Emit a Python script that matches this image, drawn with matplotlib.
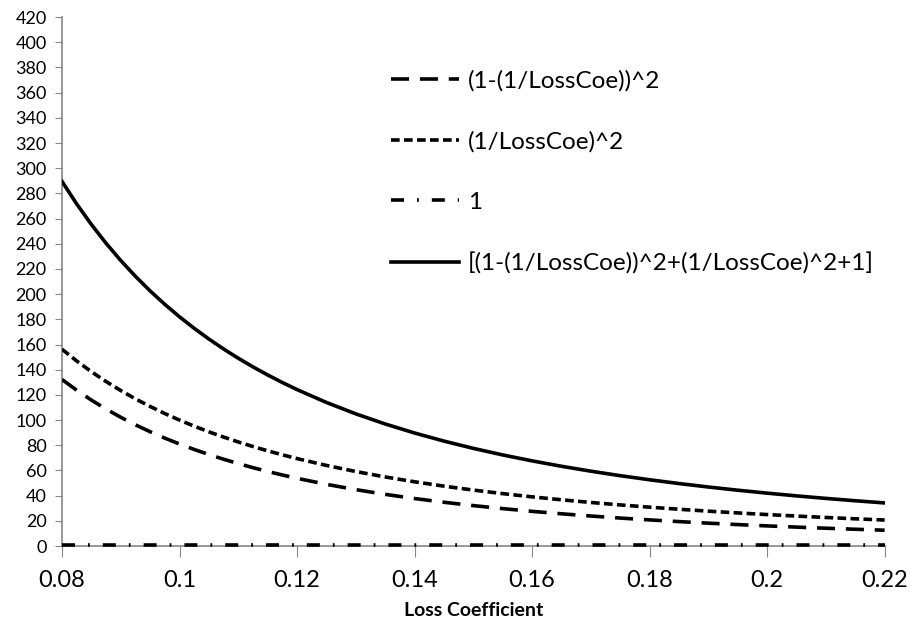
import matplotlib.pyplot as plt

plt.rcParams['font.family'] = ['Lato', 'DejaVu Sans']

# Data
loss_coe = [0.0800, 0.0825, 0.0850, 0.0875, 0.0900, 0.0925, 0.0950, 0.0975,
            0.1000, 0.1025, 0.1050, 0.1075, 0.1100, 0.1125, 0.1150, 0.1175,
            0.120, 0.125, 0.130, 0.135, 0.140, 0.145, 0.150, 0.155, 0.160, 0.165,
            0.170, 0.175, 0.180, 0.185, 0.190, 0.195, 0.200, 0.205, 0.210, 0.215, 0.220]
one_minus_inv_sq = [132.25, 123.68, 115.88, 108.76, 102.23, 96.25, 90.75, 85.68,
                    81.00, 76.67, 72.66, 68.93, 65.46, 62.23, 59.22, 56.41,
                    53.78, 49.00, 44.79, 41.05, 37.73, 34.77, 32.11, 29.72, 27.56, 25.61,
                    23.84, 22.22, 20.75, 19.41, 18.17, 17.04, 16.00, 15.04, 14.15, 13.33, 12.57]
inv_sq = [156.25, 146.92, 138.41, 130.61, 123.46, 116.87, 110.80, 105.19,
          100.00, 95.18, 90.70, 86.53, 82.64, 79.01, 75.61, 72.43,
          69.44, 64.00, 59.17, 54.87, 51.02, 47.56, 44.44, 41.62, 39.06, 36.73,
          34.60, 32.65, 30.86, 29.22, 27.70, 26.30, 25.00, 23.80, 22.68, 21.63, 20.66]
ones = [1.0] * len(loss_coe)
total = [289.50, 271.60, 255.29, 240.37, 226.69, 214.12, 202.55, 191.87,
         182.00, 172.85, 164.36, 156.46, 149.10, 142.24, 135.83, 129.84,
         124.22, 114.00, 104.96, 96.92, 89.76, 83.33, 77.56, 72.34, 67.63, 63.34,
         59.44, 55.88, 52.62, 49.63, 46.88, 44.34, 42.00, 39.83, 37.83, 35.97, 34.23]

labels = ['(1-(1/LossCoe))^2', '(1/LossCoe)^2', '1',
          '[(1-(1/LossCoe))^2+(1/LossCoe)^2+1]']

fig = plt.figure(figsize=(9.12, 6.32), dpi=100)
ax = fig.add_axes([0.068, 0.136, 0.902, 0.837])

lw = 2.6
ax.plot(loss_coe, one_minus_inv_sq, color='black', lw=lw, dashes=(5, 3), label=labels[0], zorder=3)
ax.plot(loss_coe, inv_sq, color='black', lw=lw, dashes=(2.4, 1.2), label=labels[1], zorder=3)
ax.plot(loss_coe, ones, color='black', lw=lw, dashes=(3.6, 3.6, 0.5, 3.6), label=labels[2],
        zorder=3, clip_on=False)
ax.plot(loss_coe, total, color='black', lw=lw, label=labels[3], zorder=3)

ax.set_xlim(0.08, 0.22)
ax.set_ylim(0, 420)
ax.set_xticks([0.08, 0.1, 0.12, 0.14, 0.16, 0.18, 0.2, 0.22])
ax.set_xticklabels(['0.08', '0.1', '0.12', '0.14', '0.16', '0.18', '0.2', '0.22'])
ax.set_yticks(range(0, 421, 20))

for s in ['top', 'right']:
    ax.spines[s].set_visible(False)
for s in ['left', 'bottom']:
    ax.spines[s].set_color('#868686')
    ax.spines[s].set_linewidth(1.2)

ax.tick_params(axis='y', direction='out', length=5, color='#868686', labelsize=13, pad=6)
ax.tick_params(axis='x', direction='out', length=8, color='#868686', labelsize=17, pad=9)

ax.set_xlabel('Loss Coefficient', fontsize=14, fontweight='bold', labelpad=8)

leg = ax.legend(loc='upper left', bbox_to_anchor=(0.4044, 0.9245), bbox_transform=fig.transFigure,
                frameon=False, fontsize=17.5, handlelength=2.8, handletextpad=0.37,
                labelspacing=1.63)

plt.savefig('out.png', dpi=100)
